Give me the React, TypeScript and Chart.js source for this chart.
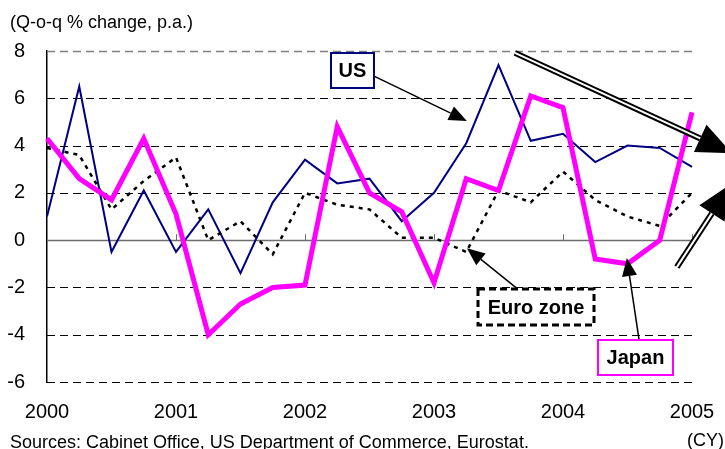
import React, { useEffect, useRef } from 'react';
import { Chart, registerables } from 'chart.js';

Chart.register(...registerables);

const FONT = '"Liberation Sans", Arial, Helvetica, sans-serif';

// Quarterly data, 2000Q1 .. 2005Q1 (Q-o-q % change, annualised)
const quarterIndex = Array.from({ length: 21 }, (_, i) => i);
const yearLabels = ['2000', '2001', '2002', '2003', '2004', '2005'];
const usGrowth = [1.0, 6.5, -0.5, 2.1, -0.5, 1.3, -1.4, 1.6, 3.4, 2.4, 2.6, 0.8, 2.0, 4.1, 7.4, 4.2, 4.5, 3.3, 4.0, 3.9, 3.1];
const japanGrowth = [4.3, 2.6, 1.7, 4.3, 1.1, -4.0, -2.7, -2.0, -1.9, 4.8, 2.0, 1.2, -1.8, 2.6, 2.1, 6.1, 5.6, -0.8, -1.0, 0.0, 5.4];
const euroGrowth = [3.9, 3.6, 1.3, 2.5, 3.5, 0.0, 0.8, -0.6, 2.0, 1.5, 1.3, 0.1, 0.1, -0.5, 2.1, 1.6, 2.9, 1.7, 1.0, 0.6, 2.0];
const yTicks = [-6, -4, -2, 0, 2, 4, 6, 8];

const titleText = '(Q-o-q % change, p.a.)';
const sourceText = 'Sources: Cabinet Office, US Department of Commerce, Eurostat.';
const unitText = '(CY)';

function arrowHead(ctx: CanvasRenderingContext2D, x1: number, y1: number, x2: number, y2: number, len: number, wid: number) {
  const a = Math.atan2(y2 - y1, x2 - x1);
  const bx = x2 - len * Math.cos(a);
  const by = y2 - len * Math.sin(a);
  const px = (-Math.sin(a) * wid) / 2;
  const py = (Math.cos(a) * wid) / 2;
  ctx.beginPath();
  ctx.moveTo(x2, y2);
  ctx.lineTo(bx + px, by + py);
  ctx.lineTo(bx - px, by - py);
  ctx.closePath();
  ctx.fill();
  return [bx, by];
}

export default function App() {
  const ref = useRef<HTMLCanvasElement>(null);

  useEffect(() => {
    document.body.style.margin = '0';
    const canvas = ref.current!;

    const overlay = {
      id: 'overlay',
      beforeDatasetsDraw(chart: any) {
        const { ctx, chartArea, scales } = chart;
        const ys = scales.y;
        const xs = scales.x;
        ctx.save();
        yTicks.forEach((v) => {
          const py = Math.round(ys.getPixelForValue(v)) + 0.5;
          ctx.beginPath();
          if (v === 0) {
            ctx.setLineDash([]);
            ctx.strokeStyle = '#6e6e6e';
            ctx.lineWidth = 1.5;
          } else {
            ctx.setLineDash([8, 5]);
            ctx.strokeStyle = v === 8 ? '#808080' : '#000';
            ctx.lineWidth = v === 8 ? 1.5 : 1;
          }
          ctx.moveTo(chartArea.left, py);
          ctx.lineTo(chartArea.right, py);
          ctx.stroke();
        });
        // year tick marks on the zero line
        ctx.setLineDash([]);
        ctx.strokeStyle = '#6e6e6e';
        ctx.lineWidth = 1;
        const y0 = ys.getPixelForValue(0);
        yearLabels.forEach((_, i) => {
          if (i === 0) return;
          const px = Math.round(xs.getPixelForValue(i * 4)) + 0.5;
          ctx.beginPath();
          ctx.moveTo(px, y0);
          ctx.lineTo(px, y0 - 6);
          ctx.stroke();
        });
        ctx.restore();
      },
      afterDraw(chart: any) {
        const { ctx, scales } = chart;
        const P = (x: number, y: number) => [scales.x.getPixelForValue(x), scales.y.getPixelForValue(y)];
        ctx.save();

        // texts
        ctx.fillStyle = '#000';
        ctx.font = `18px ${FONT}`;
        ctx.textBaseline = 'alphabetic';
        ctx.textAlign = 'left';
        ctx.fillText(titleText, 10, 28);
        ctx.fillText(sourceText, 10, 448);
        ctx.textAlign = 'right';
        ctx.fillText(unitText, 724, 446);

        // single arrows
        const single = (from: number[], to: number[]) => {
          const [x1, y1] = P(from[0], from[1]);
          const [x2, y2] = P(to[0], to[1]);
          ctx.fillStyle = '#000';
          const [bx, by] = arrowHead(ctx, x1, y1, x2, y2, 18, 15);
          ctx.strokeStyle = '#000';
          ctx.lineWidth = 1.5;
          ctx.setLineDash([]);
          ctx.beginPath();
          ctx.moveTo(x1, y1);
          ctx.lineTo(bx, by);
          ctx.stroke();
        };
        single([10.14, 6.94], [13.02, 5.04]);
        single([14.6, -2.07], [13.02, -0.34]);
        single([18.36, -4.23], [17.98, -0.76]);

        // double-line block arrows
        const dbl = (from: number[], to: number[]) => {
          const [x1, y1] = P(from[0], from[1]);
          const [x2, y2] = P(to[0], to[1]);
          ctx.fillStyle = '#000';
          const [bx, by] = arrowHead(ctx, x1, y1, x2, y2, 35, 30);
          ctx.setLineDash([]);
          ctx.lineCap = 'butt';
          ctx.beginPath();
          ctx.moveTo(x1, y1);
          ctx.lineTo(bx, by);
          ctx.strokeStyle = '#000';
          ctx.lineWidth = 6;
          ctx.stroke();
          ctx.strokeStyle = '#fff';
          ctx.lineWidth = 2;
          ctx.stroke();
        };
        dbl([14.51, 7.92], [21.24, 3.68]);
        dbl([19.53, -1.14], [21.21, 2.37]);

        // label boxes
        const box = (cx: number, cy: number, w: number, h: number, color: string, dash: number[], lw: number, text: string) => {
          const [px, py] = P(cx, cy);
          const l = Math.round(px - w / 2);
          const t = Math.round(py - h / 2);
          ctx.fillStyle = '#fff';
          ctx.fillRect(l, t, w, h);
          ctx.setLineDash(dash);
          ctx.lineWidth = lw;
          ctx.strokeStyle = color;
          ctx.strokeRect(l, t, w, h);
          ctx.setLineDash([]);
          ctx.fillStyle = '#000';
          ctx.font = `bold 20px ${FONT}`;
          ctx.textAlign = 'center';
          ctx.textBaseline = 'middle';
          ctx.fillText(text, l + w / 2, t + h / 2 + 1);
        };
        box(9.47, 7.17, 43, 35, '#000080', [], 2, 'US');
        box(15.16, -2.84, 116, 36, '#000', [7, 4], 3, 'Euro zone');
        box(18.25, -4.97, 75, 35, '#ff00ff', [], 2, 'Japan');

        ctx.restore();
      },
    };

    const pts = (vals: number[]) => vals.map((v, i) => ({ x: quarterIndex[i], y: v }));

    const chart = new Chart(canvas, {
      type: 'line',
      data: {
        datasets: [
          { label: 'Japan', data: pts(japanGrowth), borderColor: '#ff00ff', borderWidth: 5, pointRadius: 0, tension: 0, clip: false } as any,
          { label: 'Euro zone', data: pts(euroGrowth), borderColor: '#000', borderWidth: 2.5, borderDash: [4, 5], pointRadius: 0, tension: 0, clip: false } as any,
          { label: 'US', data: pts(usGrowth), borderColor: '#000080', borderWidth: 2, pointRadius: 0, tension: 0, clip: false } as any,
        ],
      },
      options: {
        animation: false,
        responsive: false,
        layout: { padding: { top: 51, right: 33, bottom: 27, left: 0 } },
        plugins: { legend: { display: false }, tooltip: { enabled: false }, title: { display: false } },
        scales: {
          x: {
            type: 'linear',
            min: 0,
            max: 20,
            grid: { display: false, drawTicks: false },
            border: { display: false },
            ticks: {
              stepSize: 4,
              autoSkip: false,
              maxRotation: 0,
              padding: 18,
              color: '#000',
              font: { family: FONT, size: 20 },
              callback: (v: any) => yearLabels[Math.round(Number(v) / 4)] ?? '',
            },
            afterFit: (s: any) => {
              s.height = 40;
              s.paddingLeft = 0;
              s.paddingRight = 0;
            },
          },
          y: {
            min: -6,
            max: 8,
            grid: { display: false, drawTicks: false },
            border: { display: true, color: '#000', width: 1.5 },
            ticks: {
              stepSize: 2,
              padding: 22,
              color: '#000',
              font: { family: FONT, size: 20 },
            },
            afterFit: (s: any) => {
              s.width = 47;
              s.paddingTop = 0;
              s.paddingBottom = 0;
            },
          },
        },
      } as any,
      plugins: [overlay],
    });

    return () => chart.destroy();
  }, []);

  return (
    <div style={{ width: 725, height: 449 }}>
      <canvas ref={ref} width={725} height={449} style={{ display: 'block' }} />
    </div>
  );
}
